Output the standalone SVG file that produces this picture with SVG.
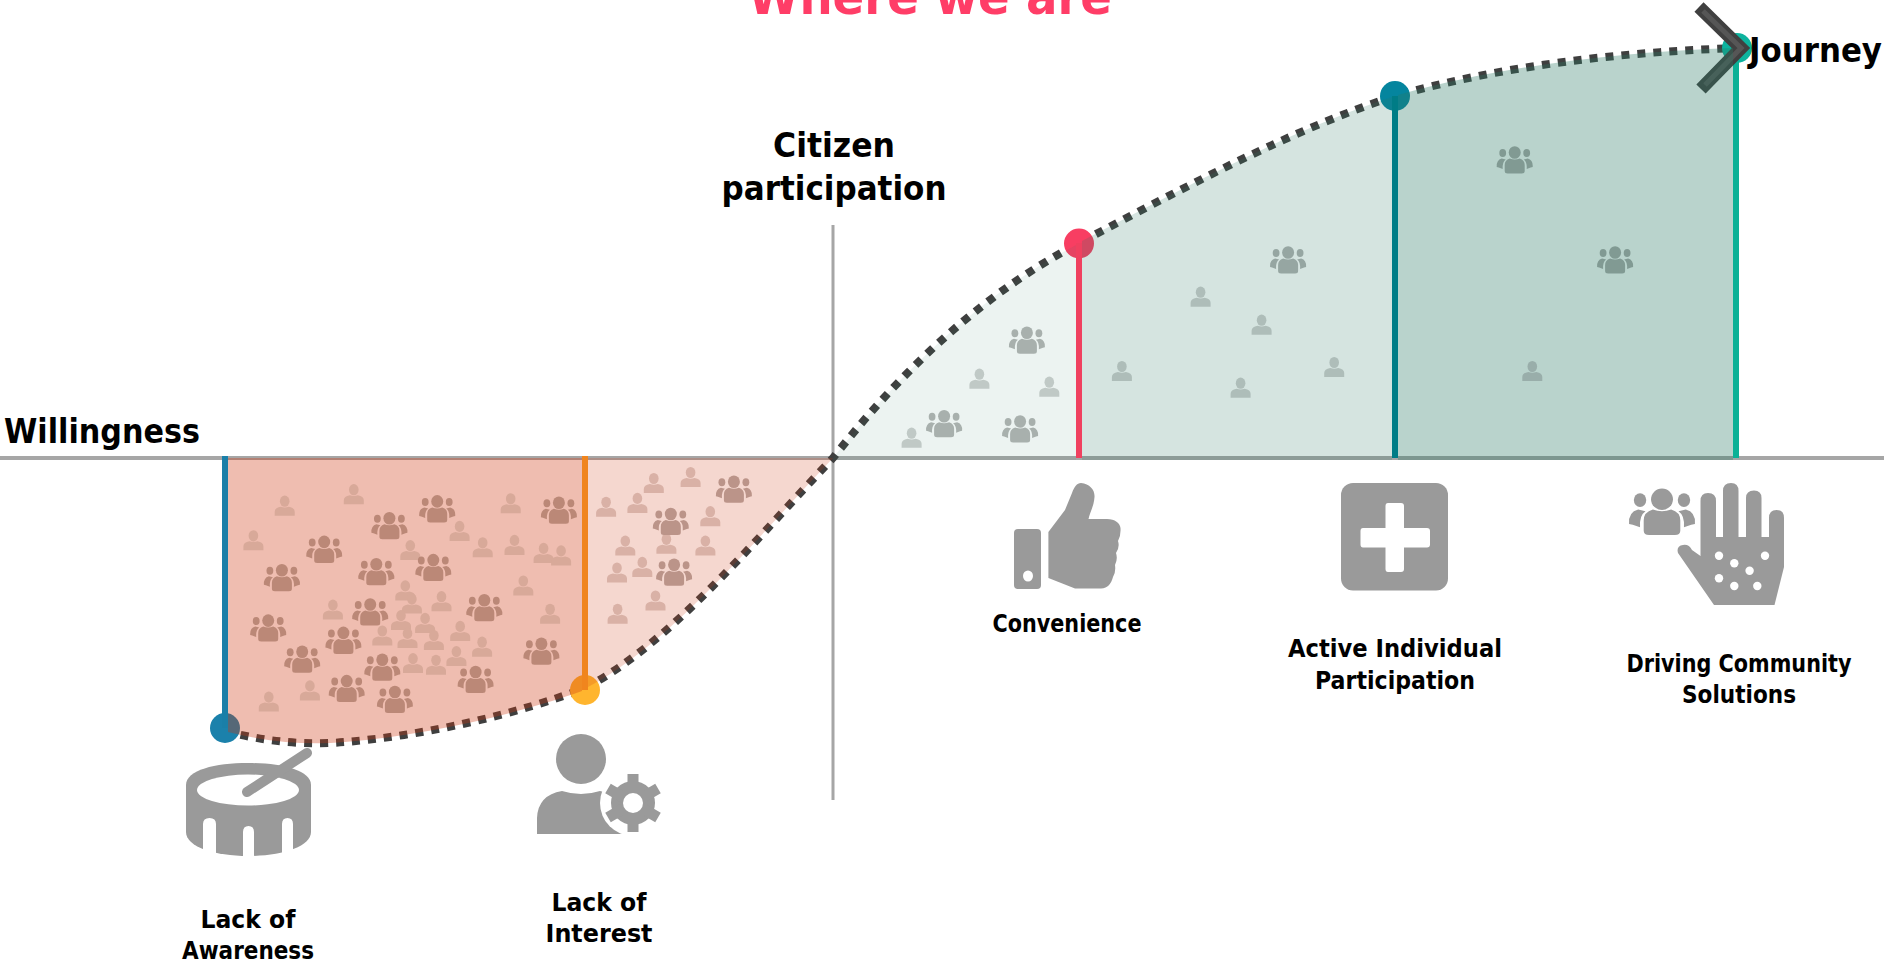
<svg xmlns="http://www.w3.org/2000/svg" xmlns:xlink="http://www.w3.org/1999/xlink" width="1884" height="965" viewBox="0 0 1884 965">
<style>
text{font-family:"DejaVu Sans","Noto Sans",sans-serif;font-weight:700;fill:#000;text-anchor:middle}
.axis{stroke:#a6a6a6;fill:none}
.bar{stroke-width:6;fill:none}
.curve{fill:none;stroke:#3f3f3f;stroke-width:8;stroke-dasharray:8 8}
.ic{fill:#9a9a9a}
.hole{fill:#fff}
.dp{fill:#d8a999}.dg{fill:#bb8877}
.lp{fill:#d9b1a6}.lg{fill:#bb9489}
.pp{fill:#c0c9c6}.pg{fill:#a8b0ad}
.mp{fill:#aebdb9}.mg{fill:#96a6a2}
.xp{fill:#99aeaa}.xg{fill:#819a93}
.big{font-size:33px}
.mid{font-size:25px}
</style>
<defs>
<g id="p"><ellipse cx="0" cy="-4.500" rx="4.800" ry="5.600"/><path d="M-10,10V6Q-10,2-4,1Q0,2.500 4,1Q10,2 10,6V10Z"/></g>
<g id="g"><ellipse cx="0" cy="-7.500" rx="6" ry="6.300"/><ellipse cx="-12" cy="-7" rx="3.400" ry="4"/><ellipse cx="12" cy="-7" rx="3.400" ry="4"/><path d="M-10,11V5Q-10,0-5,-1.500Q0,0.500 5,-1.500Q10,0 10,5V11Q10,13.500 7,13.500H-7Q-10,13.500-10,11Z"/><path d="M-18,7Q-18.500,0-13,-1.500L-9,-0.500Q-12.500,2-12,9L-16,7.500Z"/><path d="M18,7Q18.500,0 13,-1.500L9,-0.500Q12.500,2 12,9L16,7.500Z"/></g>
</defs>
<g id="axes">
<path class="axis" stroke-width="4" d="M0,458H1884"/>
<path class="axis" stroke-width="3" d="M833,225V800"/>
</g>
<g id="connectors">
<path class="curve" d="M225,731C270,743 310,745 345,742C430,735 520,713 585,688C670,644 755,540 833,458C910,360 990,290 1079,243C1180,190 1290,130 1395,96C1500,66 1620,52 1737,48"/>
</g>
<g id="markers">
<circle cx="225" cy="728" r="15" fill="#1b81ab"/>
<circle cx="585" cy="690" r="15" fill="#ffb52e"/>
<circle cx="1079" cy="243.500" r="15" fill="#f83e62"/>
<circle cx="1395" cy="96" r="15" fill="#05859e"/>
<circle cx="1737" cy="48" r="15" fill="#0db39e"/>
<path class="bar" stroke="#1a7fa8" d="M225,456V728"/>
<path class="bar" stroke="#f0851e" d="M585,456V690"/>
<path class="bar" stroke="#f0405f" d="M1079,458V243"/>
<path class="bar" stroke="#007c86" d="M1395,458V96"/>
<path class="bar" stroke="#0cb196" d="M1736,458V48"/>
</g>
<g id="chevron" fill="none" stroke-linejoin="miter">
<path d="M1699,7L1741,48L1701,89" stroke="#404040" stroke-width="13"/>
<path d="M1703,11L1741,48L1705,85" stroke="#565656" stroke-width="5"/>
</g>
<g id="areas">
<path fill="#ce370f" fill-opacity=".33" d="M228,458H582V691C520,713 430,735 345,742C310,745 270,743 228,732Z"/>
<path fill="#ce370f" fill-opacity=".2" d="M588,458H833C755,540 670,644 588,687Z"/>
<path fill="#2b7a64" fill-opacity=".09" d="M833,460V458C910,360 990,290 1076,245V460Z"/>
<path fill="#2b7a64" fill-opacity=".2" d="M1082,241C1180,190 1290,130 1392,97V460H1082Z"/>
<path fill="#2b7a64" fill-opacity=".33" d="M1398,95C1500,66 1620,52 1733,48V460H1398Z"/>
</g>
<g id="people-unaware" class="dp">
<use href="#p" x="284.700" y="505.700"/><use href="#p" x="353.800" y="494.200"/><use href="#p" x="253.400" y="540.300"/><use href="#p" x="459.600" y="530.900"/><use href="#p" x="410.300" y="550.100"/><use href="#p" x="482.700" y="547.300"/><use href="#p" x="514.500" y="544.900"/><use href="#p" x="510.700" y="503.300"/><use href="#p" x="543.600" y="552.900"/><use href="#p" x="561.100" y="555.400"/><use href="#p" x="523.300" y="585.500"/><use href="#p" x="405.300" y="590.400"/><use href="#p" x="411.900" y="603.600"/><use href="#p" x="441.500" y="601.200"/><use href="#p" x="332.900" y="609.600"/><use href="#p" x="550.100" y="613.800"/><use href="#p" x="401" y="620.100"/><use href="#p" x="425.100" y="622.900"/><use href="#p" x="460.200" y="630.900"/><use href="#p" x="382.300" y="635.500"/><use href="#p" x="407.500" y="637.900"/><use href="#p" x="433.900" y="640"/><use href="#p" x="482.100" y="646.700"/><use href="#p" x="456.400" y="656.100"/><use href="#p" x="413" y="663.100"/><use href="#p" x="436" y="664.800"/><use href="#p" x="309.900" y="690.400"/><use href="#p" x="268.800" y="701.600"/>
</g>
<g id="groups-unaware" class="dg">
<use href="#g" x="437.200" y="508.900"/><use href="#g" x="389.400" y="525.700"/><use href="#g" x="558.900" y="510.300"/><use href="#g" x="324.200" y="549.400"/><use href="#g" x="281.900" y="577.800"/><use href="#g" x="376.300" y="571.800"/><use href="#g" x="433.300" y="567.600"/><use href="#g" x="484.300" y="607.800"/><use href="#g" x="370.200" y="612"/><use href="#g" x="268.200" y="628.100"/><use href="#g" x="343.400" y="640.400"/><use href="#g" x="302.200" y="659.200"/><use href="#g" x="541.400" y="651.200"/><use href="#g" x="382.300" y="667.300"/><use href="#g" x="346.700" y="688.600"/><use href="#g" x="394.900" y="699.500"/><use href="#g" x="475.600" y="679.500"/>
</g>
<g id="people-uninterested" class="lp">
<use href="#p" x="653.800" y="483"/><use href="#p" x="690.600" y="477"/><use href="#p" x="606.100" y="506.800"/><use href="#p" x="637.400" y="502.900"/><use href="#p" x="710.300" y="516.200"/><use href="#p" x="625.300" y="545.600"/><use href="#p" x="666.400" y="543.800"/><use href="#p" x="705.400" y="545.600"/><use href="#p" x="617" y="572.500"/><use href="#p" x="642.300" y="566.900"/><use href="#p" x="655.500" y="600.500"/><use href="#p" x="617.600" y="613.800"/>
</g>
<g id="groups-uninterested" class="lg">
<use href="#g" x="733.900" y="489.300"/><use href="#g" x="670.800" y="521.500"/><use href="#g" x="674.100" y="572.200"/>
</g>
<g id="people-convenience">
<g class="pp"><use href="#p" x="911.600" y="437.700"/><use href="#p" x="979.400" y="378.700"/><use href="#p" x="1049.300" y="386.700"/></g>
<g class="pg"><use href="#g" x="1026.900" y="340.300"/><use href="#g" x="944.100" y="423.700"/><use href="#g" x="1020.100" y="429"/></g>
</g>
<g id="people-active">
<g class="mp"><use href="#p" x="1121.900" y="371"/><use href="#p" x="1200.600" y="296.700"/><use href="#p" x="1261.600" y="324.700"/><use href="#p" x="1240.600" y="387.700"/><use href="#p" x="1334.200" y="367"/></g>
<use class="mg" href="#g" x="1288.100" y="260"/>
</g>
<g id="people-driving">
<use class="xp" href="#p" x="1532.300" y="371"/>
<g class="xg"><use href="#g" x="1514.700" y="160"/><use href="#g" x="1615.100" y="260"/></g>
</g>
<g id="node-awareness">
<path class="ic" d="M186,785C186,770 215,763 248,763C281,763 311,770 311,785V832C311,847 281,856 248,856C215,856 186,847 186,832Z"/>
<ellipse class="hole" cx="248" cy="790" rx="51" ry="15.500"/>
<path class="hole" d="M203,860V824Q203,818 209.500,818Q216,818 216,824V860ZM243,860V832Q243,826 248.500,826Q254,826 254,832V860ZM282,860V824Q282,818 287.500,818Q293,818 293,824V860Z"/>
<path d="M247,792L307,753" stroke="#9a9a9a" stroke-width="10" stroke-linecap="round"/>
<text class="mid" x="248" y="928" textLength="95" lengthAdjust="spacingAndGlyphs">Lack of</text>
<text class="mid" x="248" y="959" textLength="132" lengthAdjust="spacingAndGlyphs">Awareness</text>
</g>
<g id="node-interest">
<circle class="ic" cx="581" cy="759" r="25"/>
<path class="ic" d="M537,834V818Q538,795 562,791Q581,797 600,791Q620,795 625,812V834H620Z"/>
<circle cx="633" cy="803" r="33" fill="#fff"/>
<circle class="ic" cx="633" cy="803" r="22"/>
<g stroke="#9a9a9a" stroke-width="11"><path d="M633,774V832M608,788.500L658,817.500M608,817.500L658,788.500"/></g>
<circle class="hole" cx="633" cy="803" r="10"/>
<text class="mid" x="599" y="911" textLength="95" lengthAdjust="spacingAndGlyphs">Lack of</text>
<text class="mid" x="599" y="942" textLength="107" lengthAdjust="spacingAndGlyphs">Interest</text>
</g>
<g id="node-convenience">
<rect class="ic" x="1014" y="529" width="27" height="60" rx="4"/>
<ellipse class="hole" cx="1028" cy="576" rx="5" ry="5.500"/>
<path class="ic" d="M1048.400,532L1065,510L1072,493C1074,487 1077,483 1081,483C1090,484 1095,490 1094.500,497C1094,506 1090,512 1088.500,519H1107C1115,519 1120,523 1120.500,528Q1121,536 1118,541Q1120,547 1116,553Q1118,559 1115,565Q1116,572 1113,577C1111,584 1108,588 1101,588.500H1075L1048.400,578Z"/>
<text class="mid" x="1067" y="632" textLength="149" lengthAdjust="spacingAndGlyphs">Convenience</text>
</g>
<g id="node-active">
<rect class="ic" x="1341" y="483" width="107" height="107.500" rx="12"/>
<path class="hole" d="M1385.500,506Q1385.500,503 1388,503H1401Q1404,503 1404,506V528H1427Q1430,528 1430,531V544.500Q1430,547.500 1427,547.500H1404V569Q1404,572 1401,572H1388Q1385.500,572 1385.500,569V547.500H1363Q1360.500,547.500 1360.500,544.500V531Q1360.500,528 1363,528H1385.500Z"/>
<text class="mid" x="1395" y="657" textLength="214" lengthAdjust="spacingAndGlyphs">Active Individual</text>
<text class="mid" x="1395" y="689" textLength="160" lengthAdjust="spacingAndGlyphs">Participation</text>
</g>
<g id="node-driving">
<use class="ic" href="#g" transform="translate(1662,512) scale(1.830,1.700)"/>
<path class="ic" d="M1700.500,501Q1700.500,493 1708,493Q1716,493 1716,501V537H1723V491Q1723,483 1731,483Q1738.500,483 1738.500,491V537H1746V498Q1746,490.500 1754,490.500Q1761.500,490.500 1761.500,498V537H1769V518Q1769,510 1776.500,510Q1784,510 1784,518V567L1774.500,605H1714L1678,553Q1676,546 1683,545Q1689,544 1692,550L1700.500,556Z"/>
<g class="hole"><circle cx="1719" cy="555.700" r="4.200"/><circle cx="1765" cy="555.700" r="4.200"/><circle cx="1734.300" cy="563.300" r="4.200"/><circle cx="1749.600" cy="570.700" r="4.200"/><circle cx="1719" cy="578.300" r="4.200"/><circle cx="1734.300" cy="586" r="4.200"/><circle cx="1757.300" cy="586" r="4.200"/></g>
<text class="mid" x="1739" y="672" textLength="225" lengthAdjust="spacingAndGlyphs">Driving Community</text>
<text class="mid" x="1739" y="703" textLength="114" lengthAdjust="spacingAndGlyphs">Solutions</text>
</g>
<g id="labels">
<text x="930" y="14" font-size="50" style="fill:#ff3d67" textLength="364" lengthAdjust="spacingAndGlyphs">Where we are</text>
<text class="big" x="4" y="443" style="text-anchor:start" textLength="196" lengthAdjust="spacingAndGlyphs">Willingness</text>
<text class="big" x="834" y="157" textLength="122" lengthAdjust="spacingAndGlyphs">Citizen</text>
<text class="big" x="834" y="200" textLength="225" lengthAdjust="spacingAndGlyphs">participation</text>
<text class="big" x="1749" y="62" style="text-anchor:start" textLength="133" lengthAdjust="spacingAndGlyphs">Journey</text>
</g>
</svg>
